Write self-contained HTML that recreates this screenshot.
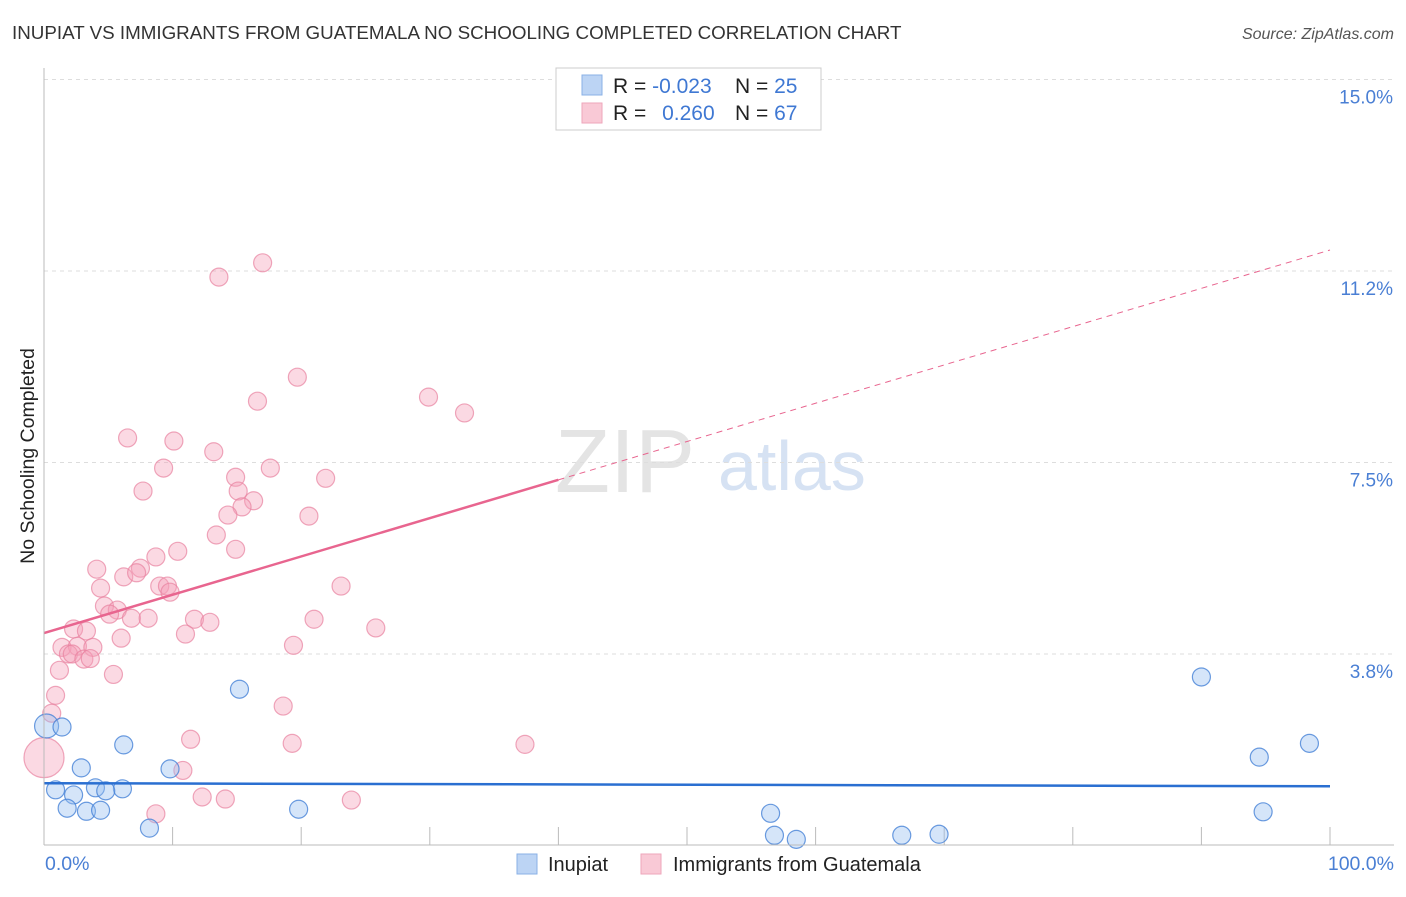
<!DOCTYPE html>
<html><head><meta charset="utf-8"><style>
body{margin:0;background:#fff;font-family:"Liberation Sans",sans-serif;}
svg text{font-family:"Liberation Sans",sans-serif;}
</style></head><body>
<svg id="c" width="1406" height="892">
<text x="12" y="39" font-size="18.8" fill="#333">INUPIAT VS IMMIGRANTS FROM GUATEMALA NO SCHOOLING COMPLETED CORRELATION CHART</text>
<text x="1394" y="39" font-size="16" fill="#555" text-anchor="end" font-style="italic">Source: ZipAtlas.com</text>
<text x="34" y="456" font-size="19.5" fill="#222" text-anchor="middle" transform="rotate(-90 34 456)">No Schooling Completed</text>
<text x="555" y="492" font-size="90" fill="#e4e4e4" font-family="Liberation Serif">ZIP</text>
<text x="718" y="490" font-size="70" fill="#d6e2f3">atlas</text>
<g id="grid"></g><g id="pts"></g><g id="lines"></g>
<line x1="44" y1="68" x2="44" y2="845" stroke="#bbb"/>
<line x1="44" y1="845" x2="1394" y2="845" stroke="#bbb"/>
<text x="45" y="870" font-size="19.5" fill="#4a7fd4">0.0%</text>
<text x="1394" y="870" font-size="19.5" fill="#4a7fd4" text-anchor="end">100.0%</text>
<g>
<rect x="556" y="68" width="265" height="62" fill="#fff" stroke="#ccc"/>
<rect x="582" y="75" width="20" height="20" fill="#bcd4f4" stroke="#8ab0e6"/>
<rect x="582" y="103" width="20" height="20" fill="#f9c9d6" stroke="#eea6bb"/>
<text x="613" y="93" font-size="21" fill="#222">R = <tspan fill="#3f78d3">-0.023</tspan></text>
<text x="735" y="93" font-size="21" fill="#222">N = <tspan fill="#3f78d3">25</tspan></text>
<text x="613" y="120" font-size="21" fill="#222">R = <tspan fill="#3f78d3" dx="10">0.260</tspan></text>
<text x="735" y="120" font-size="21" fill="#222">N = <tspan fill="#3f78d3">67</tspan></text>
</g>
<g>
<rect x="517" y="854" width="20" height="20" fill="#bcd4f4" stroke="#8ab0e6"/>
<text x="548" y="871" font-size="20" fill="#222">Inupiat</text>
<rect x="641" y="854" width="20" height="20" fill="#f9c9d6" stroke="#eea6bb"/>
<text x="673" y="871" font-size="20" fill="#222">Immigrants from Guatemala</text>
</g>
</svg>
<script>
const yTicks=[3.75,7.5,11.25,15];
const yTickLabels=["3.8%","7.5%","11.2%","15.0%"];
const xTicks=[10,20,30,40,50,60,70,80,90,100];
const pinkX=[13.6,17.0,19.7,16.6,29.9,32.7,6.5,10.1,13.2,9.3,17.6,14.9,21.9,7.7,15.1,16.3,15.4,14.3,20.6,13.4,14.9,10.4,8.7,4.1,7.5,6.2,7.2,9.0,9.6,9.8,4.4,23.1,4.7,5.7,5.1,6.8,8.1,11.7,12.9,21.0,11.0,25.8,2.3,3.3,6.0,1.4,2.6,3.8,1.9,2.2,3.1,3.6,19.4,1.2,5.4,0.9,0.6,18.6,11.4,19.3,37.4,10.8,12.3,14.1,23.9,8.7,0.0];
const pinkY=[11.13,11.41,9.17,8.70,8.78,8.47,7.98,7.92,7.71,7.39,7.39,7.21,7.19,6.94,6.94,6.75,6.63,6.47,6.45,6.08,5.80,5.76,5.65,5.41,5.43,5.26,5.34,5.08,5.08,4.96,5.04,5.08,4.69,4.61,4.53,4.45,4.45,4.43,4.37,4.43,4.14,4.26,4.24,4.20,4.06,3.88,3.90,3.88,3.75,3.75,3.65,3.66,3.92,3.43,3.35,2.94,2.59,2.73,2.08,2.00,1.98,1.47,0.95,0.91,0.89,0.62,1.72];
const pinkR=[9,9,9,9,9,9,9,9,9,9,9,9,9,9,9,9,9,9,9,9,9,9,9,9,9,9,9,9,9,9,9,9,9,9,9,9,9,9,9,9,9,9,9,9,9,9,9,9,9,9,9,9,9,9,9,9,9,9,9,9,9,9,9,9,9,9,20];
const blueX=[0.2,1.4,15.2,6.2,2.9,9.8,0.9,4.0,6.1,2.3,4.8,1.8,3.3,4.4,19.8,8.2,56.5,56.8,58.5,66.7,69.6,90.0,94.5,98.4,94.8];
const blueY=[2.34,2.32,3.06,1.97,1.52,1.50,1.09,1.13,1.11,0.99,1.07,0.73,0.67,0.69,0.71,0.34,0.63,0.20,0.12,0.20,0.22,3.30,1.73,2.00,0.66];
const blueR=[12,9,9,9,9,9,9,9,9,9,9,9,9,9,9,9,9,9,9,9,9,9,9,9,9];
const pinkTrend=[4.16,11.66];
const blueTrend=[1.22,1.16];
const X=v=>44+v*12.86, Y=v=>845.5-v*51.07;
const NS="http://www.w3.org/2000/svg";
function mk(t,a,p){const e=document.createElementNS(NS,t);for(const k in a)e.setAttribute(k,a[k]);p.appendChild(e);return e;}
const grid=document.getElementById('grid');
yTicks.forEach((t,i)=>{
 const l=mk('line',{x1:44,x2:1394,y1:Y(t),y2:Y(t),stroke:'#ddd','stroke-dasharray':'4 4'},grid);
 
 
 const tx=mk('text',{x:1393,y:Y(t)+24,'font-size':19,fill:'#4a7fd4','text-anchor':'end'},grid);
 tx.textContent=yTickLabels[i];
 
 
});
xTicks.forEach(t=>{
 const l=mk('line',{x1:X(t),x2:X(t),y1:827,y2:845,stroke:'#bbb'},grid);
 
 
});
const pts=document.getElementById('pts');
pinkX.forEach((x,i)=>{
 const c=mk('circle',{cx:X(x),cy:Y(pinkY[i]),r:pinkR[i],fill:'rgba(244,160,186,0.4)',stroke:'rgba(232,130,160,0.7)','stroke-width':1.2},pts);
 
 
});
blueX.forEach((x,i)=>{
 const c=mk('circle',{cx:X(x),cy:Y(blueY[i]),r:blueR[i],fill:'rgba(150,190,240,0.4)',stroke:'rgba(70,130,215,0.8)','stroke-width':1.2},pts);
 
 
});
const lines=document.getElementById('lines');
const pv=x=>pinkTrend[0]+(pinkTrend[1]-pinkTrend[0])*x/100;
let l1=mk('line',{x1:X(0),y1:Y(pv(0)),x2:X(40),y2:Y(pv(40)),stroke:'#e8658f','stroke-width':2.5},lines);


let l2=mk('line',{x1:X(40),y1:Y(pv(40)),x2:X(100),y2:Y(pv(100)),stroke:'#e8658f','stroke-width':1,'stroke-dasharray':'6 5'},lines);


let l3=mk('line',{x1:X(0),y1:Y(blueTrend[0]),x2:X(100),y2:Y(blueTrend[1]),stroke:'#2a6fd1','stroke-width':2.5},lines);


</script>
</body></html>
